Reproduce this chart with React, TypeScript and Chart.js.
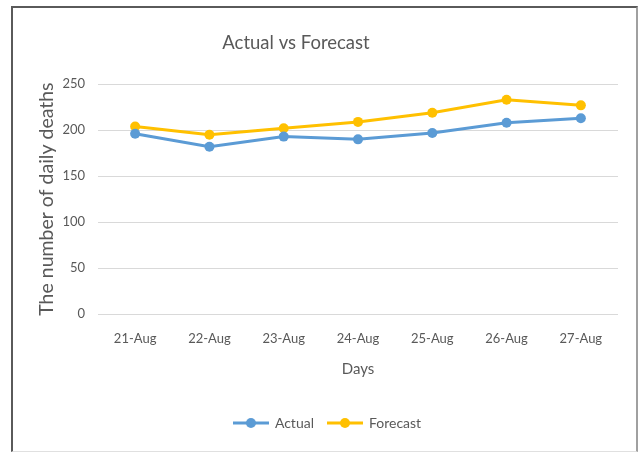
import React, { useEffect, useRef } from "react";
import { Chart, registerables } from "chart.js";

Chart.register(...registerables);

const categories = ["21-Aug", "22-Aug", "23-Aug", "24-Aug", "25-Aug", "26-Aug", "27-Aug"];
const actualValues = [196, 182, 193, 190, 197, 208, 213];
const forecastValues = [204, 195, 202, 209, 219, 233, 227];
const seriesNames = ["Actual", "Forecast"];
const seriesColors = ["#5B9BD5", "#FFC000"];
const yTicks = { min: 0, max: 250, step: 50 };

const FONT = "Lato, 'Open Sans', sans-serif";
const TEXT = "#595959";

function legendIcon(color: string): HTMLCanvasElement {
  const c = document.createElement("canvas");
  c.width = 36;
  c.height = 12;
  const ctx = c.getContext("2d")!;
  ctx.strokeStyle = color;
  ctx.lineWidth = 3;
  ctx.beginPath();
  ctx.moveTo(0, 6);
  ctx.lineTo(36, 6);
  ctx.stroke();
  ctx.fillStyle = color;
  ctx.beginPath();
  ctx.arc(18, 6, 5, 0, Math.PI * 2);
  ctx.fill();
  return c;
}

const shiftBoxes = {
  id: "shiftBoxes",
  afterLayout(chart: any) {
    if (chart.titleBlock) {
      chart.titleBlock.right -= 39;
    }
    if (chart.legend) {
      chart.legend.left += 12;
      chart.legend.right += 12;
    }
  },
};

export default function App() {
  const ref = useRef<HTMLCanvasElement>(null);
  useEffect(() => {
    if (!ref.current) return;
    const icons = seriesColors.map(legendIcon);
    const chart = new Chart(ref.current, {
      type: "line",
      data: {
        labels: categories,
        datasets: [actualValues, forecastValues].map((d, i) => ({
          label: seriesNames[i],
          data: d,
          borderColor: seriesColors[i],
          backgroundColor: seriesColors[i],
          borderWidth: 3,
          pointRadius: 5,
          pointBackgroundColor: seriesColors[i],
          pointBorderWidth: 0,
          pointStyle: "circle",
          tension: 0,
        })),
      },
      plugins: [shiftBoxes],
      options: {
        responsive: false,
        animation: false,
        layout: { padding: { left: 0, right: 17, top: 0, bottom: 8 } },
        plugins: {
          title: {
            display: true,
            text: "Actual vs Forecast",
            color: TEXT,
            font: { family: FONT, size: 18.5, weight: "normal" },
            padding: { top: 24, bottom: 30 },
          },
          legend: {
            position: "bottom",
            labels: {
              usePointStyle: true,
              pointStyleWidth: 34,
              color: TEXT,
              font: { family: FONT, size: 14 },
              padding: 14,
              generateLabels: (ch: any) =>
                ch.data.datasets.map((ds: any, i: number) => ({
                  text: ds.label,
                  fillStyle: seriesColors[i],
                  strokeStyle: seriesColors[i],
                  lineWidth: 0,
                  pointStyle: icons[i],
                  hidden: false,
                  datasetIndex: i,
                  fontColor: TEXT,
                })),
            },
          },
          tooltip: { enabled: false },
        },
        scales: {
          x: {
            offset: true,
            grid: { display: false, drawTicks: false },
            border: { display: false },
            ticks: { color: TEXT, font: { family: FONT, size: 13 }, padding: 17, maxRotation: 0 },
            title: {
              display: true,
              text: "Days",
              color: TEXT,
              font: { family: FONT, size: 15 },
              padding: { top: 0, bottom: 24 },
            },
            afterFit: (s: any) => {
              s.height = 88;
            },
          },
          y: {
            min: yTicks.min,
            max: yTicks.max,
            ticks: { stepSize: yTicks.step, color: TEXT, font: { family: FONT, size: 13 }, padding: 13 },
            grid: { color: "#D9D9D9", lineWidth: 1, drawTicks: false },
            border: { display: false },
            title: {
              display: true,
              text: "The number of daily deaths",
              color: TEXT,
              font: { family: FONT, size: 19.5 },
              padding: { top: 22, bottom: 0 },
            },
            afterFit: (s: any) => {
              s.width = 85;
            },
          },
        },
      },
    } as any);
    return () => chart.destroy();
  }, []);

  return (
    <div style={{ position: "absolute", left: 0, top: 0, width: 638, height: 452, background: "#fff", overflow: "hidden" }}>
      <div
        style={{
          position: "absolute",
          left: 11,
          top: 6,
          width: 623,
          height: 443,
          borderLeft: "2px solid #5a5a5a",
          borderTop: "2px solid #5a5a5a",
          borderRight: "2px solid #a0a0a0",
          borderBottom: "1px solid #e0e0e0",
        }}
      />
      <canvas ref={ref} width={622} height={440} style={{ position: "absolute", left: 13, top: 8, width: 622, height: 440 }} />
    </div>
  );
}
